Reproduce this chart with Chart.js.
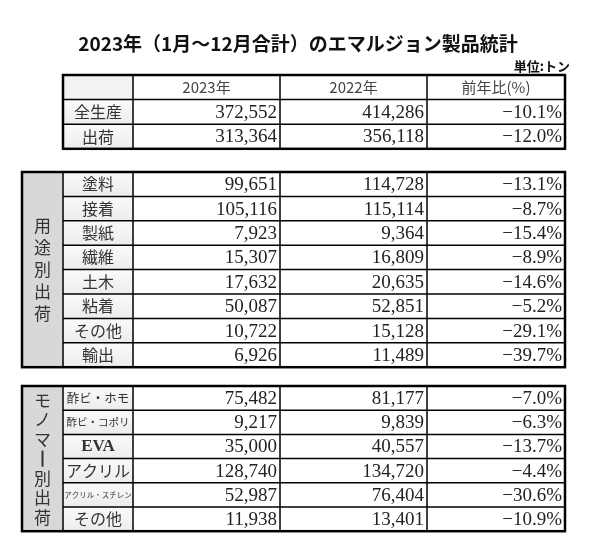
<!DOCTYPE html>
<html><head><meta charset="utf-8">
<script src="https://cdn.jsdelivr.net/npm/chart.js@4"></script>
<style>body{margin:0;background:#fff}</style></head>
<body><canvas id="c" width="599" height="550"></canvas>
<script>
const title = "2023年（1月～12月合計）のエマルジョン製品統計";
const unitLabel = "単位:トン";
const headers = ["2023年", "2022年", "前年比(%)"];
const totalLabels = ["全生産", "出荷"];
const total2023 = [372552, 313364];
const total2022 = [414286, 356118];
const totalPct = [-10.1, -12.0];
const useGroup = "用途別出荷";
const useLabels = ["塗料","接着","製紙","繊維","土木","粘着","その他","輸出"];
const use2023 = [99651,105116,7923,15307,17632,50087,10722,6926];
const use2022 = [114728,115114,9364,16809,20635,52851,15128,11489];
const usePct = [-13.1,-8.7,-15.4,-8.9,-14.6,-5.2,-29.1,-39.7];
const monoGroup = "モノマー別出荷";
const monoLabels = ["酢ビ・ホモ","酢ビ・コポリ","EVA","アクリル","アクリル・スチレン","その他"];
const mono2023 = [75482,9217,35000,128740,52987,11938];
const mono2022 = [81177,9839,40557,134720,76404,13401];
const monoPct = [-7.0,-6.3,-13.7,-4.4,-30.6,-10.9];

const X = [22,63,133,280,427,565];
const fmt = v => v.toLocaleString('en-US');
const pct = v => (v<0?'−':'') + Math.abs(v).toFixed(1) + '%';
const JP = '"Noto Sans CJK JP"';
const SERIF = '"Liberation Serif", "DejaVu Serif", serif';

function drawTable(ctx, sx, sy, top, rowH, labels, a, b, c, group, header, gstep) {
  const n = labels.length + (header?1:0);
  const bottom = top + rowH*n;
  const left = group ? X[0] : X[1];
  const px = v => sx.getPixelForValue(v), py = v => sy.getPixelForValue(v);
  if (group) { ctx.fillStyle = '#d8d8d8'; ctx.fillRect(px(X[0]), py(top), px(X[1])-px(X[0]), py(bottom)-py(top)); }
  let r0 = 0;
  if (header) {
    ctx.fillStyle = '#f2f2f2'; ctx.fillRect(px(X[1]), py(top), px(X[2])-px(X[1]), rowH);
    ctx.fillStyle = '#444'; ctx.textAlign='center'; ctx.textBaseline='middle';
    headers.forEach((h,i)=>{ ctx.font = '15px ' + JP; ctx.fillText(h, (px(X[i+2])+px(X[i+3]))/2, py(top+rowH/2)); });
    r0 = 1;
  }
  labels.forEach((l,i)=>{
    const y0 = top + rowH*(i+r0), ym = y0 + rowH/2;
    const g = ctx.createLinearGradient(0, py(y0), 0, py(y0+rowH));
    g.addColorStop(0,'#fafafa'); g.addColorStop(1,'#ececec');
    ctx.fillStyle = g; ctx.fillRect(px(X[1]), py(y0), px(X[2])-px(X[1]), rowH);
    ctx.fillStyle = '#333'; ctx.textAlign='center'; ctx.textBaseline='middle';
    let fs = 16;
    if (l.length >= 8) fs = 7.5; else if (l.length >= 6) fs = 10.5; else if (l.length >= 5) fs = 12.5;
    ctx.font = (l==='EVA' ? 'bold 17px '+SERIF : fs + 'px ' + JP);
    ctx.fillText(l, (px(X[1])+px(X[2]))/2, py(ym));
    ctx.font = '19px ' + SERIF; ctx.textAlign='right'; ctx.fillStyle='#222';
    ctx.fillText(fmt(a[i]), px(X[3])-3, py(ym)+1);
    ctx.fillText(fmt(b[i]), px(X[4])-3, py(ym)+1);
    ctx.fillText(pct(c[i]), px(X[5])-3, py(ym)+1);
  });
  ctx.strokeStyle = '#000';
  ctx.lineWidth = 1.5;
  for (let i=1;i<n;i++){ const y = py(top+rowH*i); ctx.beginPath(); ctx.moveTo(px(X[1]), y); ctx.lineTo(px(X[5]), y); ctx.stroke(); }
  for (let k=(group?1:2); k<5; k++){ ctx.beginPath(); ctx.moveTo(px(X[k]), py(top)); ctx.lineTo(px(X[k]), py(bottom)); ctx.stroke(); }
  ctx.lineWidth = 2.5;
  ctx.strokeRect(px(left), py(top), px(X[5])-px(left), py(bottom)-py(top));
  if (group) {
    ctx.fillStyle = '#333'; ctx.font = '17px ' + JP; ctx.textAlign='center'; ctx.textBaseline='middle';
    const chars = [...group];
    const start = (top+bottom)/2 - gstep*chars.length/2;
    chars.forEach((ch,i)=>{
      const y = py(start + gstep*(i+0.5));
      if (ch==='ー') { ctx.fillRect(px((X[0]+X[1])/2)-1, y-8, 2, 16); }
      else ctx.fillText(ch, px((X[0]+X[1])/2), y);
    });
  }
}

const tablePlugin = {
  id: 'tables',
  afterDraw(chart) {
    const ctx = chart.ctx, sx = chart.scales.x, sy = chart.scales.y;
    ctx.save();
    ctx.fillStyle = '#111'; ctx.font = 'bold 19px ' + JP; ctx.textAlign='center'; ctx.textBaseline='middle';
    ctx.fillText(title, sx.getPixelForValue(298), sy.getPixelForValue(44));
    ctx.font = 'bold 13px ' + JP; ctx.textAlign='right';
    ctx.fillText(unitLabel, sx.getPixelForValue(570), sy.getPixelForValue(66));
    drawTable(ctx, sx, sy, 75, 24.6, totalLabels, total2023, total2022, totalPct, null, true, 0);
    drawTable(ctx, sx, sy, 172, 24.4, useLabels, use2023, use2022, usePct, useGroup, false, 22);
    drawTable(ctx, sx, sy, 386, 24.2, monoLabels, mono2023, mono2022, monoPct, monoGroup, false, 19.5);
    ctx.restore();
  }
};

new Chart(document.getElementById('c'), {
  type: 'scatter',
  data: { datasets: [] },
  plugins: [tablePlugin],
  options: {
    responsive: false, animation: false,
    layout: { padding: 0 },
    plugins: { legend: { display: false }, tooltip: { enabled: false } },
    scales: {
      x: { type: 'linear', min: 0, max: 599, display: false },
      y: { type: 'linear', min: 0, max: 550, reverse: true, display: false }
    }
  }
});
</script></body></html>
